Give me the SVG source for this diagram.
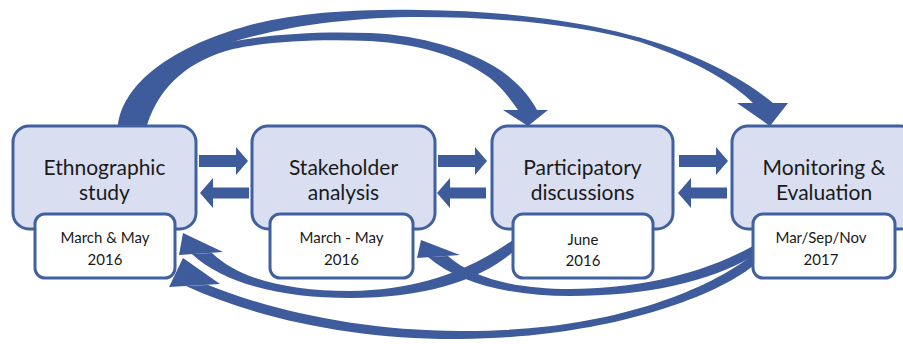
<svg xmlns="http://www.w3.org/2000/svg" xmlns:xlink="http://www.w3.org/1999/xlink" width="903" height="344" viewBox="0 0 903 344">
<style>
.arr{fill:#3E5B9B;stroke:none}
.big{fill:#D9DFF1;stroke:#41609F;stroke-width:3}
.small{fill:#FFFFFF;stroke:#41609F;stroke-width:3}
.t1{font-family:Lato,"Open Sans","Liberation Sans",sans-serif;font-size:21px;fill:#1A1A1A;text-anchor:middle}
.t2{font-family:Lato,"Open Sans","Liberation Sans",sans-serif;font-size:15px;fill:#1A1A1A;text-anchor:middle}
</style>
<defs>
<path id="ra" d="M0,-6 H37 V-14 L49,0 L37,14 V6 H0 Z"/>
<path id="la" d="M0,0 L13,-15 V-5.5 H49 V5.5 H13 V15 Z"/>
</defs>
<g id="connectors" class="arr">
<path d="M118,125 C122,90 160,50 250,25 C300,12 360,9 420,10 C520,11 620,25 690,55 C730,72 755,88 773,103 L753,103 C735,85 700,62 640,42 C580,25 500,17 420,17 C340,17 260,30 210,50 C170,68 145,95 135,125 Z"/>
<polygon points="737,103 788,103 770,126"/>
<path d="M125,125 C135,85 170,55 230,42 C270,34 320,31 370,33 C420,35 470,50 500,70 C520,84 530,97 537,110 L518,110 C510,98 500,86 490,78 C460,56 420,44 370,41 C320,39 270,41 233,49 C190,60 160,85 147,125 Z"/>
<polygon points="503,110 548,110 528,126"/>
<path d="M513,240 C470,270 420,290 350,291 C290,291 240,280 212,253 L192,254 C225,285 285,298 350,298 C425,298 480,280 513,252 Z"/>
<polygon points="183,233 179,255 223,252"/>
<path d="M753,246 C700,275 640,288 570,289 C520,289 475,280 448,256 L428,257 C460,285 515,296 570,296 C645,296 710,282 753,256 Z"/>
<polygon points="421,240 417,258 460,255"/>
<path d="M753,255 C700,295 600,332 460,331 C360,331 270,310 208,285 L186,286 C260,320 360,340 460,339 C600,338 710,300 753,266 Z"/>
<polygon points="183,258 169,287 220,284"/>
<use xlink:href="#ra" x="199" y="161"/>
<use xlink:href="#ra" x="438" y="161"/>
<use xlink:href="#ra" x="679" y="161"/>
<use xlink:href="#la" x="200" y="193"/>
<use xlink:href="#la" x="437" y="193"/>
<use xlink:href="#la" x="678" y="193"/>
</g>
<g id="node-ethnographic">
<rect class="big" x="13" y="126" width="183" height="103" rx="16"/>
<text class="t1" x="104.5" y="175">Ethnographic</text>
<text class="t1" x="104.5" y="200">study</text>
<rect class="small" x="35" y="214" width="140" height="64" rx="10"/>
<text class="t2" x="105" y="243">March &amp; May</text>
<text class="t2" x="105" y="265">2016</text>
</g>
<g id="node-stakeholder">
<rect class="big" x="252" y="126" width="183" height="103" rx="16"/>
<text class="t1" x="343.5" y="175">Stakeholder</text>
<text class="t1" x="343.5" y="200">analysis</text>
<rect class="small" x="270" y="214" width="143" height="64" rx="10"/>
<text class="t2" x="341.5" y="243">March - May</text>
<text class="t2" x="341.5" y="265">2016</text>
</g>
<g id="node-participatory">
<rect class="big" x="492" y="126" width="181" height="103" rx="16"/>
<text class="t1" x="582.5" y="175">Participatory</text>
<text class="t1" x="582.5" y="200">discussions</text>
<rect class="small" x="513" y="214" width="140" height="64" rx="10"/>
<text class="t2" x="583" y="245">June</text>
<text class="t2" x="583" y="266">2016</text>
</g>
<g id="node-monitoring">
<rect class="big" x="732" y="126" width="184" height="103" rx="16"/>
<text class="t1" x="824" y="175">Monitoring &amp;</text>
<text class="t1" x="824" y="200">Evaluation</text>
<rect class="small" x="753" y="214" width="142" height="64" rx="10"/>
<text class="t2" x="821" y="243">Mar/Sep/Nov</text>
<text class="t2" x="821" y="265">2017</text>
</g>
</svg>
